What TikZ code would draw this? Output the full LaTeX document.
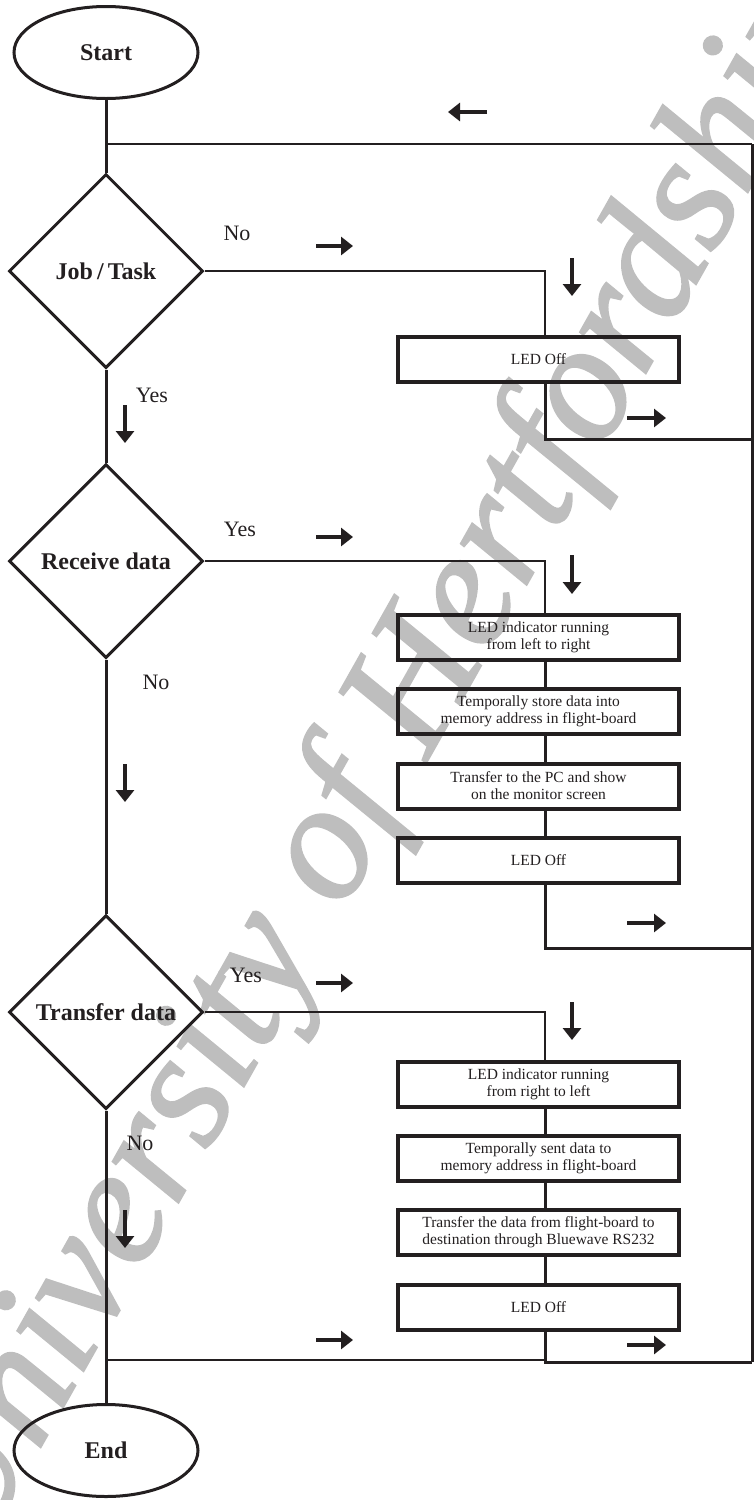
\documentclass[tikz,border=0pt]{standalone}
\usepackage{fontspec}
\setmainfont{Liberation Serif}
\newfontfamily\wmfont[FakeBold=1.4]{Liberation Serif Italic}
\usetikzlibrary{shapes.geometric,arrows.meta}
\definecolor{ink}{RGB}{35,31,32}
\definecolor{wm}{RGB}{190,190,190}
\tikzset{
  term/.style={ellipse, draw=ink, line width=3pt, minimum width=184pt, minimum height=92pt, inner sep=0pt, font=\bfseries\fontsize{24}{28}\selectfont, text=ink},
  dec/.style={diamond, draw=ink, line width=3pt, minimum width=194pt, minimum height=194pt, inner sep=0pt, font=\bfseries\fontsize{24}{28}\selectfont, text=ink},
  stepbox/.style={rectangle, draw=ink, line width=4pt, minimum width=281pt, minimum height=45pt, inner sep=0pt, align=center, font=\fontsize{15.5}{17}\selectfont, text=ink},
  lbl/.style={font=\fontsize{22}{26}\selectfont, text=ink, inner sep=0pt},
  flow/.style={draw=ink, line width=3pt},
  link/.style={draw=ink, line width=2.2pt},
  ind/.style={draw=ink, line width=4.5pt, -{Triangle[length=12pt,width=18pt]}},
  wmark/.style={anchor=base west, rotate=60.6, text=wm, inner sep=0pt, font=\wmfont\fontsize{168}{168}\selectfont},
}
\begin{document}
\begin{tikzpicture}[x=1pt,y=-1pt]
\useasboundingbox (0,0) rectangle (754,1500);
% watermark
\begin{scope}
\clip (0,0) rectangle (754,1500);
\node[wmark] (wmk) at (-22,1558) {University of Hertfordshire};
\end{scope}

% terminals and decisions
\node[term] (start) at (106,52.5) {Start};
\node[dec] (job) at (106,271) {Job\,/\,Task};
\node[dec] (recv) at (106,561) {Receive data};
\node[dec] (trans) at (106,1012) {Transfer data};
\node[term] (end) at (106,1450.5) {End};

% process boxes
\node[stepbox] (off1) at (538.5,359.5) {LED Off};
\node[stepbox] (r1) at (538.5,637.5) {LED indicator running\\from left to right};
\node[stepbox] (r2) at (538.5,711.5) {Temporally store data into\\memory address in flight-board};
\node[stepbox] (r3) at (538.5,786) {Transfer to the PC and show\\on the monitor screen};
\node[stepbox] (r4) at (538.5,860) {LED Off};
\node[stepbox] (t1) at (538.5,1084) {LED indicator running\\from right to left};
\node[stepbox] (t2) at (538.5,1158.5) {Temporally sent data to\\memory address in flight-board};
\node[stepbox] (t3) at (538.5,1232.5) {Transfer the data from flight-board to\\destination through Bluewave RS232};
\node[stepbox] (t4) at (538.5,1307) {LED Off};

% coordinates
\coordinate (jtop) at (106,144);
\coordinate (tr) at (752,144);
\coordinate (br) at (752,1362);
\coordinate (jx) at (545,271);
\coordinate (jo) at (545,439);
\coordinate (jor) at (752,439);
\coordinate (rx) at (545,561);
\coordinate (ro) at (545,948);
\coordinate (ror) at (752,948);
\coordinate (tx) at (545,1012);
\coordinate (to) at (545,1362);
\coordinate (bl) at (106,1360);
\coordinate (bm) at (545,1360);

% main line
\draw[flow] (start.south) -- (job.north);
\draw[flow] (job.south) -- (recv.north);
\draw[flow] (recv.south) -- (trans.north);
\draw[flow] (trans.south) -- (end.north);
% return loop
\draw[link] (jtop) -- (tr);
\draw[flow] (tr) -- (br);
% job branch
\draw[link] (job.east) -- (jx) -- (jx |- off1.north);
\draw[flow] (jx |- off1.south) -- (jo) -- (jor);
% receive branch
\draw[link] (recv.east) -- (rx) -- (rx |- r1.north);
\draw[flow] (rx |- r1.south) -- (rx |- r2.north);
\draw[flow] (rx |- r2.south) -- (rx |- r3.north);
\draw[flow] (rx |- r3.south) -- (rx |- r4.north);
\draw[flow] (rx |- r4.south) -- (ro) -- (ror);
% transfer branch
\draw[link] (trans.east) -- (tx) -- (tx |- t1.north);
\draw[flow] (tx |- t1.south) -- (tx |- t2.north);
\draw[flow] (tx |- t2.south) -- (tx |- t3.north);
\draw[flow] (tx |- t3.south) -- (tx |- t4.north);
\draw[flow] (tx |- t4.south) -- (to) -- (br);
\draw[link] (bl) -- (bm);

% labels
\node[lbl] (l1) at (237,233) {No};
\node[lbl] (l2) at (152,395) {Yes};
\node[lbl] (l3) at (240,529) {Yes};
\node[lbl] (l4) at (156,682) {No};
\node[lbl] (l5) at (246,975) {Yes};
\node[lbl] (l6) at (140,1143) {No};

% direction indicators
\draw[ind] (487,112) -- (448,112);
\draw[ind] (316,246) -- (353,246);
\draw[ind] (572,258) -- (572,296);
\draw[ind] (627,418) -- (666,418);
\draw[ind] (125,405) -- (125,443);
\draw[ind] (316,537) -- (353,537);
\draw[ind] (572,555) -- (572,594);
\draw[ind] (125,764) -- (125,802);
\draw[ind] (627,923) -- (666,923);
\draw[ind] (316,983) -- (353,983);
\draw[ind] (572,1002) -- (572,1040);
\draw[ind] (125,1210) -- (125,1248);
\draw[ind] (316,1340) -- (353,1340);
\draw[ind] (627,1345) -- (666,1345);
\end{tikzpicture}
\end{document}
